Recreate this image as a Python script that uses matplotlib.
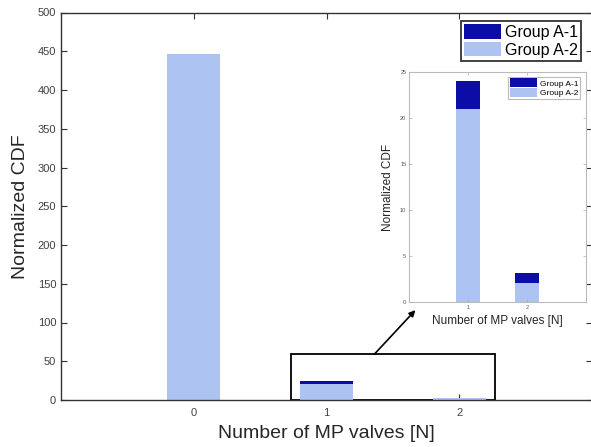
import numpy as np
import matplotlib.pyplot as plt
from matplotlib.patches import Rectangle

plt.rcParams['font.family'] = ['Liberation Sans', 'DejaVu Sans']

# data
valves = [0, 1, 2]
group_a2 = [447, 21, 2.1]
group_a1 = [0, 3, 1.1]
labels = ['Group A-1', 'Group A-2']

dark = '#0c0ca6'
light = '#adc4f3'

fig = plt.figure(figsize=(5.91, 4.47), dpi=100)

# main axes
ax = fig.add_axes([61/591, 1-400/447, 531/591, 387.5/447])
b2 = ax.bar(valves, group_a2, width=0.4, color=light, linewidth=0, zorder=6)
b1 = ax.bar(valves, group_a1, width=0.4, bottom=group_a2, color=dark, linewidth=0, zorder=6)
ax.set_xlim(-1, 3)
ax.set_ylim(0, 500)
ax.set_xticks(valves)
ax.set_yticks(np.arange(0, 501, 50))
ax.tick_params(direction='in', top=True, right=True, length=4, labelsize=8,
               colors='#333333', labelcolor='#404040')
ax.tick_params(axis='x', pad=6)
for s in ax.spines.values():
    s.set_color('#333333')
    s.set_linewidth(1.0)
    s.set_zorder(7)
ax.set_xlabel('Number of MP valves [N]', fontsize=14, color='#262626', labelpad=5)
ax.set_ylabel('Normalized CDF', fontsize=14, color='#262626', labelpad=6)
leg = ax.legend([b1, b2], labels, loc='upper right', bbox_to_anchor=(0.979, 0.978),
                fontsize=11.5, fancybox=False, framealpha=1, borderaxespad=0,
                handlelength=2.3, handleheight=1.05, handletextpad=0.25,
                borderpad=0.2, labelspacing=0.1)
leg.get_frame().set_edgecolor('#333333')
leg.get_frame().set_linewidth(1.3)

# zoom box and arrow
ax.add_patch(Rectangle((0.73, 0), 1.54, 59, fill=False, edgecolor='black',
                       linewidth=1.3, zorder=5, clip_on=False))
ax.annotate('', xy=(1.67, 116), xytext=(1.36, 59),
            arrowprops=dict(arrowstyle='-|>', color='black', lw=1.2,
                            mutation_scale=9, shrinkA=0, shrinkB=0))

# inset
ins = fig.add_axes([409/591, 1-302/447, 177/591, 230/447])
i2 = ins.bar(valves[1:], group_a2[1:], width=0.4, color=light, linewidth=0)
i1 = ins.bar(valves[1:], group_a1[1:], width=0.4, bottom=group_a2[1:], color=dark, linewidth=0)
ins.set_xlim(0, 3)
ins.set_ylim(0, 25)
ins.set_xticks([1, 2])
ins.set_yticks(np.arange(0, 26, 5))
ins.tick_params(direction='in', top=True, right=True, length=2, width=0.5,
                labelsize=4, colors='#aaaaaa', labelcolor='#555555', pad=2)
for s in ins.spines.values():
    s.set_color('#bbbbbb')
    s.set_linewidth(0.8)
ins.set_xlabel('Number of MP valves [N]', fontsize=8.5, color='#262626', labelpad=4)
ins.set_ylabel('Normalized CDF', fontsize=8.5, color='#262626', labelpad=4)
ileg = ins.legend([i1, i2], labels, loc='upper right', bbox_to_anchor=(0.965, 0.98),
                  fontsize=6, fancybox=False, framealpha=1, borderaxespad=0,
                  handlelength=3.3, handleheight=1.3, handletextpad=0.3,
                  borderpad=0.2, labelspacing=0.05)
ileg.get_frame().set_edgecolor('#bbbbbb')
ileg.get_frame().set_linewidth(0.8)

fig.savefig('out.png', dpi=100)
